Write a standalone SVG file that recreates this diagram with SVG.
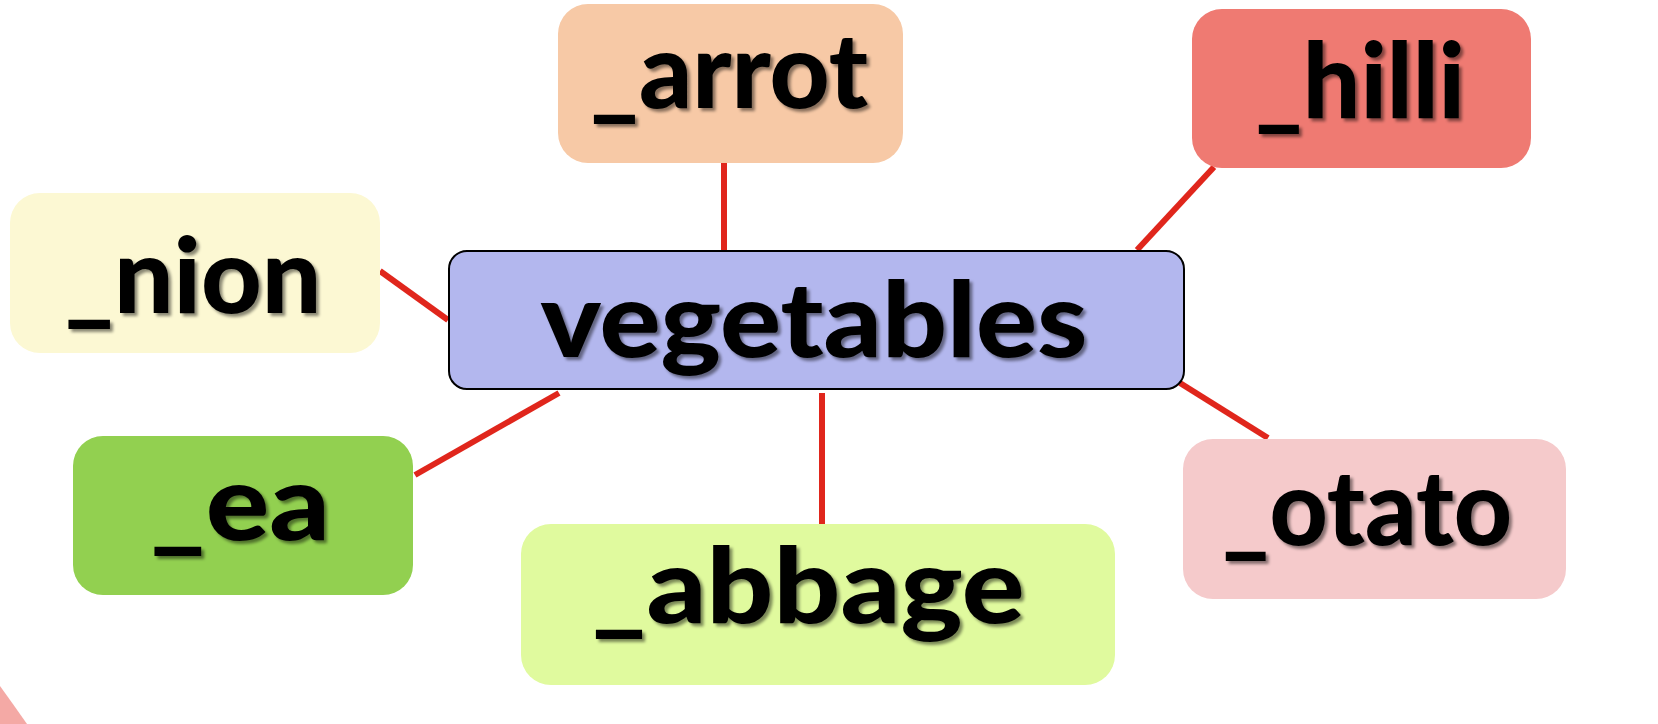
<svg xmlns="http://www.w3.org/2000/svg" width="1658" height="724" viewBox="0 0 1658 724">
<defs>
<style>
.lbl{font-family:Lato,"Liberation Sans","DejaVu Sans",sans-serif;font-weight:900;font-size:104px;fill:#000;text-anchor:middle;filter:url(#sh)}
.con{stroke:#E0261C;stroke-width:6;fill:none}
</style>
<filter id="sh" x="-10%" y="-10%" width="130%" height="140%">
<feDropShadow dx="3" dy="3" stdDeviation="1.5" flood-color="#000" flood-opacity="0.45"/>
</filter>
</defs>
<rect width="1658" height="724" fill="#fff"/>
<path d="M0,686 Q13,704 27,724 L0,724 Z" fill="#F4A9A5"/>
<g id="connectors">
<line class="con" x1="724" y1="163" x2="724" y2="252"/>
<line class="con" x1="1214" y1="167" x2="1137" y2="250"/>
<line class="con" x1="380" y1="271" x2="448" y2="320"/>
<line class="con" x1="415" y1="475" x2="559" y2="393"/>
<line class="con" x1="822" y1="393" x2="822" y2="524"/>
<line class="con" x1="1180" y1="383" x2="1268" y2="438"/>
</g>
<g id="carrot">
<rect x="558" y="4" width="345" height="159" rx="30" fill="#F7C9A6"/>
<text class="lbl" x="729" y="108" textLength="278" lengthAdjust="spacingAndGlyphs">_arrot</text>
</g>
<g id="chilli">
<rect x="1192" y="9" width="339" height="159" rx="30" fill="#EF7A72"/>
<text class="lbl" x="1360" y="118" textLength="210" lengthAdjust="spacingAndGlyphs">_hilli</text>
</g>
<g id="onion">
<rect x="10" y="193" width="370" height="160" rx="30" fill="#FCF8D3"/>
<text class="lbl" x="193" y="313" textLength="257" lengthAdjust="spacingAndGlyphs">_nion</text>
</g>
<g id="vegetables">
<rect x="449" y="251" width="735" height="138" rx="18" fill="#B3B7EE" stroke="#000" stroke-width="2"/>
<text class="lbl" x="814" y="357" textLength="547" lengthAdjust="spacingAndGlyphs">vegetables</text>
</g>
<g id="pea">
<rect x="73" y="436" width="340" height="159" rx="30" fill="#92D050"/>
<text class="lbl" x="240" y="540" textLength="180" lengthAdjust="spacingAndGlyphs">_ea</text>
</g>
<g id="cabbage">
<rect x="521" y="524" width="594" height="161" rx="30" fill="#E0FA9E"/>
<text class="lbl" x="808" y="623" textLength="433" lengthAdjust="spacingAndGlyphs">_abbage</text>
</g>
<g id="potato">
<rect x="1183" y="439" width="383" height="160" rx="30" fill="#F5CACB"/>
<text class="lbl" x="1367" y="545" textLength="290" lengthAdjust="spacingAndGlyphs">_otato</text>
</g>
</svg>
